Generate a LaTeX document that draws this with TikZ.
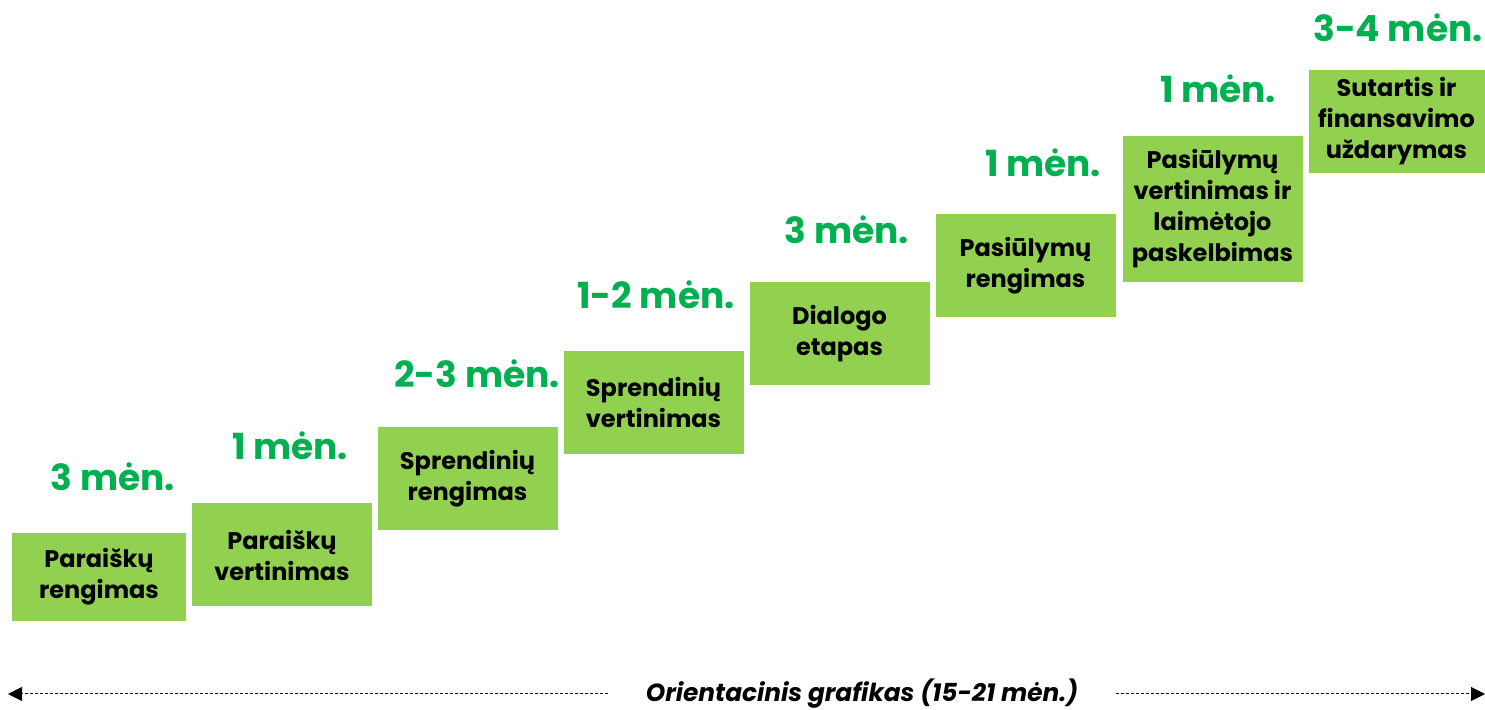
\documentclass[tikz,border=0pt]{standalone}
\usepackage{fontspec}
\setmainfont{Poppins}
\usetikzlibrary{arrows.meta}
\definecolor{stepgreen}{HTML}{92D050}
\definecolor{timegreen}{HTML}{00B050}
\begin{document}
\begin{tikzpicture}[x=0.5pt,y=-0.5pt,
phase/.style={fill=stepgreen,inner sep=0pt,align=center,
  font=\fontsize{12}{15.5}\selectfont\bfseries,minimum width=90pt,minimum height=51.5pt},
span/.style={text=timegreen,anchor=base,inner sep=0pt,font=\fontsize{18}{18}\selectfont\bfseries},
timeline/.style={line width=0.5pt,dash pattern=on 1.5pt off 1pt,-{Triangle[length=7pt,width=7pt]}}]
\useasboundingbox (0,0) rectangle (1485,710);
% phases
\node[phase,minimum width=87pt,minimum height=44pt] (p1) at (99,577) {Paraiškų\\rengimas};
\node[phase] (p2) at (282,555) {Paraiškų\\vertinimas};
\node[phase] (p3) at (467.5,478.5) {Sprendinių\\rengimas};
\node[phase] (p4) at (653.5,402.5) {Sprendinių\\vertinimas};
\node[phase] (p5) at (839.5,333.5) {Dialogo\\etapas};
\node[phase] (p6) at (1025.5,265.5) {Pasiūlymų\\rengimas};
\node[phase,minimum height=73pt] (p7) at (1212.5,209) {Pasiūlymų\\vertinimas ir\\laimėtojo\\paskelbimas};
\node[phase,minimum width=88pt] (p8) at (1396.5,121.5) {Sutartis ir\\finansavimo\\uždarymas};
% durations
\node[span] (d1) at (113,491) {3 mėn.};
\node[span] (d2) at (290,460) {1 mėn.};
\node[span] (d3) at (477,388) {2-3 mėn.};
\node[span] (d4) at (656,309) {1-2 mėn.};
\node[span] (d5) at (847,244) {3 mėn.};
\node[span] (d6) at (1043,177) {1 mėn.};
\node[span] (d7) at (1218,103) {1 mėn.};
\node[span] (d8) at (1398,42) {3-4 mėn.};
% time axis
\node[inner xsep=18.5pt,inner ysep=0pt,font=\fontsize{12.4}{12.4}\selectfont\bfseries\itshape] (axis) at (862,694) {Orientacinis grafikas (15-21 mėn.)};
\coordinate (axisl) at (8,694);
\coordinate (axisr) at (1485,694);
\draw[timeline] (axis.west) -- (axisl);
\draw[timeline] (axis.east) -- (axisr);
\end{tikzpicture}
\end{document}
